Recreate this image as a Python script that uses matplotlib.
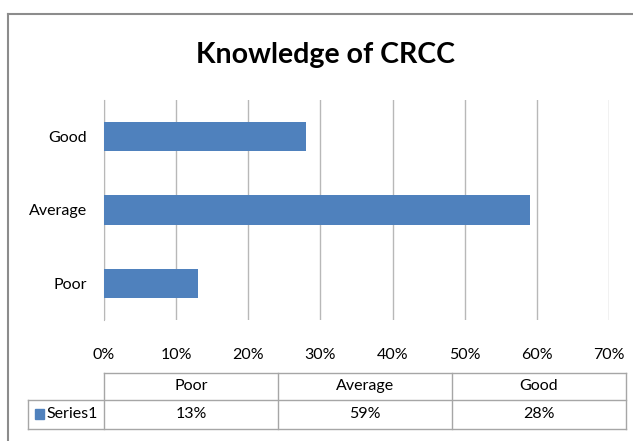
import matplotlib.pyplot as plt
from matplotlib.patches import Rectangle
from matplotlib.lines import Line2D

categorias = ["Poor", "Average", "Good"]
valores = [13, 59, 28]
serie = "Series1"
ticks_x = [0, 10, 20, 30, 40, 50, 60, 70]

W, H = 633, 441
plt.rcParams['font.family'] = ['Lato', 'DejaVu Sans']

fig = plt.figure(figsize=(W / 100, H / 100), dpi=100)

def fx(px):
    return px / W

def fy(py):
    return 1 - py / H

# marco exterior del grafico
fig.add_artist(Line2D([fx(8), fx(8)], [fy(14), fy(441)], color='#8c8c8c', lw=1.5))
fig.add_artist(Line2D([fx(8), fx(633)], [fy(14), fy(14)], color='#8c8c8c', lw=1.5))

fig.text(fx(325), fy(55), "Knowledge of CRCC", ha='center', va='center',
         fontsize=20.5, fontweight='bold')

ax = fig.add_axes([fx(104), fy(320), fx(609) - fx(104), fy(100) - fy(320)])
ax.barh(range(len(categorias)), valores, height=0.4, color='#4F81BD', zorder=3)
ax.set_xlim(0, 70)
ax.set_ylim(-0.5, 2.5)
ax.set_xticks(ticks_x)
ax.set_xticklabels([f"{t}%" for t in ticks_x], fontsize=11.5)
ax.set_yticks(range(len(categorias)))
ax.set_yticklabels(categorias, fontsize=11.5)
ax.tick_params(length=0, pad=12)
ax.tick_params(axis='x', pad=20)
ax.grid(axis='x', color='#b8b8b8', lw=1, zorder=0)
for s in ['top', 'right', 'bottom']:
    ax.spines[s].set_visible(False)
ax.spines['left'].set_color('#b8b8b8')

# tabla de datos debajo
cols = [104, 278, 452, 626]
gris = '#a6a6a6'
fig.add_artist(Line2D([fx(104), fx(626)], [fy(373), fy(373)], color=gris, lw=1))
fig.add_artist(Line2D([fx(28), fx(626)], [fy(400), fy(400)], color=gris, lw=1))
fig.add_artist(Line2D([fx(28), fx(626)], [fy(429), fy(429)], color=gris, lw=1))
for c in cols:
    fig.add_artist(Line2D([fx(c), fx(c)], [fy(373), fy(429)], color=gris, lw=1))
fig.add_artist(Line2D([fx(28), fx(28)], [fy(400), fy(429)], color=gris, lw=1))

for i, (cat, v) in enumerate(zip(categorias, valores)):
    cx = (cols[i] + cols[i + 1]) / 2
    fig.text(fx(cx), fy(386), cat, ha='center', va='center', fontsize=11.5)
    fig.text(fx(cx), fy(414), f"{v}%", ha='center', va='center', fontsize=11.5)

fig.add_artist(Rectangle((fx(35), fy(419)), fx(9), fy(409) - fy(419), color='#4F81BD'))
fig.text(fx(46), fy(414), serie, ha='left', va='center', fontsize=11.5)

fig.savefig("out.png", dpi=100)
